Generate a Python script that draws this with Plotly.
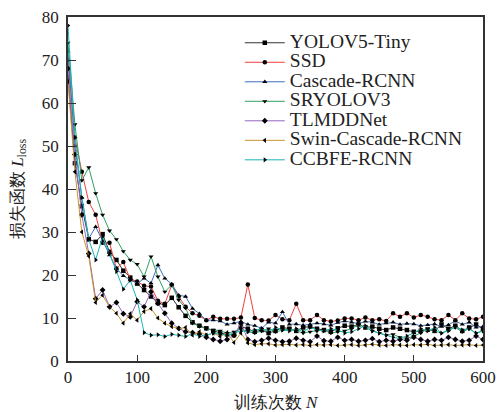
import plotly.graph_objects as go

epochs = list(range(0, 601, 10))

yolov5_tiny = [66, 46, 36, 28.3, 27.7, 29.5, 25.4, 23.5, 21, 19.4, 18, 16.5, 15, 13.5, 13, 14.7, 12.5, 10.5, 9, 8.2,
               7.6, 7.0, 6.5, 6.2, 6.0, 8.0, 7.5, 6.8, 7.2, 6.5, 7.0, 7.8, 7.5, 7.0, 7.8, 8.0, 7.5, 7.2, 6.8, 7.6,
               8.2, 8.0, 8.5, 7.8, 8.0, 7.5, 7.2, 7.8, 7.5, 7.2, 6.8, 7.0, 7.3, 7.0, 8.5, 7.5, 8.2, 7.0, 7.8, 8.5, 7.5]
ssd = [70, 52, 44, 37, 34, 27.5, 27.5, 21.5, 23, 19, 18.5, 17.5, 17.3, 14, 13.3, 17.7, 15, 12.6, 11.1, 10.5,
       9.5, 10.3, 9.8, 9.8, 9.8, 10.1, 17.8, 10, 9.5, 9.4, 10.7, 9.7, 9.5, 13.3, 9.5, 9.5, 10.7, 9.5, 9.2, 9.4,
       9.9, 9.9, 9.5, 10.1, 9.5, 9.7, 9.3, 11.1, 10.3, 11.1, 10.1, 10.7, 10.3, 9.7, 9.5, 10.7, 9.5, 11.1, 9.9, 9.7, 10.3]
cascade_rcnn = [72, 50, 38, 28.5, 31.2, 28, 24.6, 21.5, 19.8, 18.8, 18, 19.2, 18.1, 22.3, 19.2, 17.9, 15.3, 15, 12.2, 11,
                9.5, 9.5, 9.3, 8.5, 8.8, 9.2, 8.5, 8.2, 7.6, 9, 8.8, 11.4, 8.5, 8.6, 8.3, 8.5, 8.8, 8.6, 8.3, 8.9,
                9.3, 9, 8.7, 9.2, 9.0, 8.5, 8.8, 9.0, 8.5, 8.7, 8.6, 8.2, 8.4, 8.6, 8.0, 8.4, 9.3, 8.5, 9.0, 7.8, 8.0]
sryolov3 = [74, 55, 42, 45, 39, 34, 30.3, 28.3, 25.5, 23.5, 22.5, 19.6, 24.3, 19.6, 16.1, 17.7, 14.2, 12.3, 8.8, 8,
            7.5, 7.2, 7.0, 6.5, 6.8, 7.5, 6.8, 6.5, 7, 7.5, 6.8, 7.2, 7.5, 7, 6.5, 6.8, 7, 7.2, 6.5, 6.8,
            7.0, 7.5, 8.5, 7.8, 7.0, 6.5, 6.0, 6.2, 5.5, 5.2, 5.8, 6.5, 7.5, 7.0, 6.5, 7.2, 7.8, 6.8, 7.5, 6.5, 7.0]
tlmddnet = [68, 48, 34, 25, 14.5, 16.5, 12.6, 13.6, 11, 10.3, 13.8, 12.6, 16.1, 13.4, 11.1, 8.8, 7.6, 6.8, 6.6, 6.3,
            5.5, 5.0, 4.6, 5.0, 6.0, 8.8, 5.0, 4.5, 4.8, 5.3, 4.8, 4.5, 4.6, 5.3, 4.8, 4.5, 5.8, 4.7, 4.6, 5.5,
            4.8, 5.0, 4.6, 4.8, 5.2, 4.5, 4.8, 4.6, 5.0, 4.8, 5.5, 5.0, 4.6, 5.0, 4.8, 5.5, 5.0, 4.6, 4.8, 5.8, 5.0]
swin_cascade_rcnn = [65, 44, 30, 24.4, 13.6, 15.3, 12.6, 11.1, 8.8, 11, 9.5, 11.5, 12.2, 10, 8.8, 8, 7.5, 7.8, 6, 6.8,
                     6.0, 6.5, 5.7, 6.6, 4.3, 6.5, 4.2, 3.8, 4.0, 4.0, 3.7, 3.8, 3.9, 3.7, 3.8, 3.6, 3.8, 3.7, 3.8, 3.6,
                     3.7, 3.8, 3.6, 3.7, 3.9, 3.7, 3.6, 3.8, 3.7, 3.6, 3.8, 3.7, 3.9, 3.6, 3.7, 3.8, 3.6, 3.7, 3.8, 3.6, 3.7]
ccbfe_rcnn = [78, 52, 38, 28.3, 23.5, 28.9, 25, 20.8, 16.7, 18.8, 14.2, 6.6, 6, 6.1, 5.7, 6.2, 6, 5.7, 6.4, 5.7,
              6, 6.5, 6.2, 6.0, 6.5, 7.0, 6.8, 7.2, 7.5, 6.8, 7.8, 7.2, 7.0, 7.5, 6.8, 7.8, 7.2, 7.0, 7.5, 7.2,
              6.5, 6.8, 7.5, 8.2, 7.0, 6.5, 6.0, 5.5, 5.2, 5.8, 6.5, 7.5, 7.0, 7.8, 6.5, 7.0, 8.0, 7.2, 7.5, 6.5, 7.0]

series_names = ["YOLOV5-Tiny", "SSD", "Cascade-RCNN", "SRYOLOV3", "TLMDDNet", "Swin-Cascade-RCNN", "CCBFE-RCNN"]
series_values = [yolov5_tiny, ssd, cascade_rcnn, sryolov3, tlmddnet, swin_cascade_rcnn, ccbfe_rcnn]
colors = ["#333333", "#f0403c", "#3e6fc0", "#2fa062", "#9466c0", "#c8952f", "#1ab5b5"]
symbols = ["square", "circle", "triangle-up", "triangle-down", "diamond", "triangle-left", "triangle-right"]

FONT = '"Liberation Serif", "Times New Roman", serif'

fig = go.Figure()
for name, vals, color, sym in zip(series_names, series_values, colors, symbols):
    fig.add_trace(go.Scatter(
        x=epochs, y=vals, mode="lines+markers",
        name='<span style="font-size:19.5px">' + name + '</span>',
        line=dict(color=color, width=1),
        marker=dict(symbol=sym, size=4.5, color="black", line=dict(width=0)),
    ))

fig.update_layout(
    width=502, height=412,
    margin=dict(l=68, r=19, t=17, b=51),
    paper_bgcolor="white", plot_bgcolor="white",
    font=dict(family=FONT, size=17, color="#222"),
    showlegend=True,
    legend=dict(x=0.414, y=0.968, xanchor="left", yanchor="top",
                bgcolor="rgba(0,0,0,0)", borderwidth=0, itemwidth=40,
                font=dict(size=12.7, family=FONT, color="#222"), tracegroupgap=0),
)
fig.update_xaxes(range=[0, 600], tickvals=[0, 100, 200, 300, 400, 500, 600],
                 ticks="inside", ticklen=6, tickwidth=1.2, tickcolor="#333",
                 showline=True, linecolor="#333", linewidth=1.5, mirror=True,
                 showgrid=False, zeroline=False, automargin=False,
                 tickfont=dict(size=17, family=FONT),
                 title=dict(text="训练次数 <i>N</i>", font=dict(size=17, family=FONT)))
fig.update_yaxes(range=[0, 80], tickvals=[0, 10, 20, 30, 40, 50, 60, 70, 80],
                 ticks="inside", ticklen=8, tickwidth=1.2, tickcolor="#333",
                 showline=True, linecolor="#333", linewidth=1.5, mirror=True,
                 showgrid=False, zeroline=False, automargin=False,
                 ticklabelstandoff=4,
                 tickfont=dict(size=17, family=FONT),
                 title=dict(text="损失函数 <i>L</i><sub>loss</sub>", standoff=14,
                            font=dict(size=17, family=FONT)))

fig.write_html("out.html", config={"displayModeBar": False},
               post_script="document.body.style.margin='0';")
